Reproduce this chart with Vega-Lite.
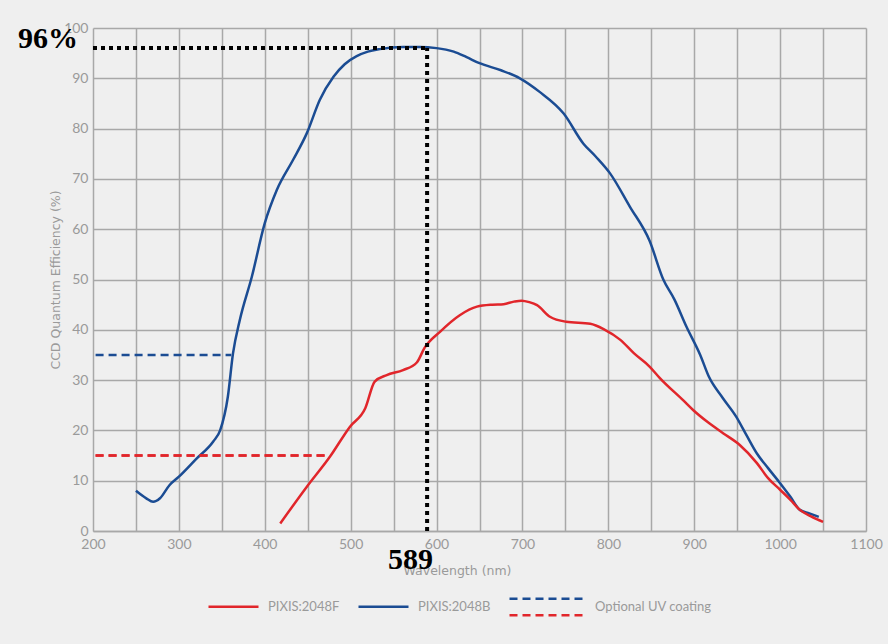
{
  "$schema": "https://vega.github.io/schema/vega-lite/v6.json",
  "width": 773,
  "height": 503,
  "autosize": {"type": "none"},
  "padding": {"left": 93, "top": 28, "right": 22, "bottom": 113},
  "background": "#efefef",
  "config": {
    "view": {"stroke": null},
    "font": "Lato",
    "axis": {
      "grid": true,
      "gridColor": "#a8a8a8",
      "gridWidth": 1.5,
      "ticks": false,
      "domainColor": "#a8a8a8",
      "domainWidth": 1.5,
      "labelColor": "#9a9a9a",
      "labelFontSize": 14,
      "labelFont": "Lato",
      "titleColor": "#9a9a9a",
      "titleFont": "DejaVu Sans",
      "titleFontSize": 12.5,
      "titleFontWeight": "normal"
    },
    "legend": {
      "labelColor": "#9a9a9a",
      "labelFontSize": 13,
      "labelFont": "Lato"
    }
  },
  "datasets": {
    "curves": [
      {"series": "PIXIS:2048B", "nm": 250, "qe": 8.0},
      {"series": "PIXIS:2048B", "nm": 262, "qe": 6.5},
      {"series": "PIXIS:2048B", "nm": 270, "qe": 5.8},
      {"series": "PIXIS:2048B", "nm": 278, "qe": 6.5},
      {"series": "PIXIS:2048B", "nm": 289, "qe": 9.1},
      {"series": "PIXIS:2048B", "nm": 300, "qe": 10.8},
      {"series": "PIXIS:2048B", "nm": 320, "qe": 14.3},
      {"series": "PIXIS:2048B", "nm": 340, "qe": 17.8},
      {"series": "PIXIS:2048B", "nm": 348, "qe": 20.0},
      {"series": "PIXIS:2048B", "nm": 357, "qe": 26.7},
      {"series": "PIXIS:2048B", "nm": 363, "qe": 35.3},
      {"series": "PIXIS:2048B", "nm": 371, "qe": 42.0},
      {"series": "PIXIS:2048B", "nm": 385, "qe": 50.6},
      {"series": "PIXIS:2048B", "nm": 400, "qe": 61.2},
      {"series": "PIXIS:2048B", "nm": 414, "qe": 67.8},
      {"series": "PIXIS:2048B", "nm": 433, "qe": 73.8},
      {"series": "PIXIS:2048B", "nm": 449, "qe": 79.1},
      {"series": "PIXIS:2048B", "nm": 464, "qe": 85.7},
      {"series": "PIXIS:2048B", "nm": 480, "qe": 90.3},
      {"series": "PIXIS:2048B", "nm": 493, "qe": 92.8},
      {"series": "PIXIS:2048B", "nm": 507, "qe": 94.4},
      {"series": "PIXIS:2048B", "nm": 520, "qe": 95.3},
      {"series": "PIXIS:2048B", "nm": 534, "qe": 95.8},
      {"series": "PIXIS:2048B", "nm": 561, "qe": 96.2},
      {"series": "PIXIS:2048B", "nm": 580, "qe": 96.2},
      {"series": "PIXIS:2048B", "nm": 600, "qe": 96.0},
      {"series": "PIXIS:2048B", "nm": 620, "qe": 95.3},
      {"series": "PIXIS:2048B", "nm": 635, "qe": 94.2},
      {"series": "PIXIS:2048B", "nm": 650, "qe": 93.0},
      {"series": "PIXIS:2048B", "nm": 675, "qe": 91.6},
      {"series": "PIXIS:2048B", "nm": 697, "qe": 90.0},
      {"series": "PIXIS:2048B", "nm": 720, "qe": 87.3},
      {"series": "PIXIS:2048B", "nm": 748, "qe": 83.0},
      {"series": "PIXIS:2048B", "nm": 771, "qe": 77.0},
      {"series": "PIXIS:2048B", "nm": 785, "qe": 74.5},
      {"series": "PIXIS:2048B", "nm": 802, "qe": 71.1},
      {"series": "PIXIS:2048B", "nm": 825, "qe": 64.5},
      {"series": "PIXIS:2048B", "nm": 848, "qe": 57.7},
      {"series": "PIXIS:2048B", "nm": 864, "qe": 50.0},
      {"series": "PIXIS:2048B", "nm": 877, "qe": 46.0},
      {"series": "PIXIS:2048B", "nm": 891, "qe": 40.6},
      {"series": "PIXIS:2048B", "nm": 907, "qe": 35.0},
      {"series": "PIXIS:2048B", "nm": 917, "qe": 30.7},
      {"series": "PIXIS:2048B", "nm": 933, "qe": 26.5},
      {"series": "PIXIS:2048B", "nm": 949, "qe": 22.7},
      {"series": "PIXIS:2048B", "nm": 961, "qe": 19.0},
      {"series": "PIXIS:2048B", "nm": 973, "qe": 15.4},
      {"series": "PIXIS:2048B", "nm": 986, "qe": 12.5},
      {"series": "PIXIS:2048B", "nm": 1000, "qe": 9.5},
      {"series": "PIXIS:2048B", "nm": 1012, "qe": 6.8},
      {"series": "PIXIS:2048B", "nm": 1023, "qe": 4.2},
      {"series": "PIXIS:2048B", "nm": 1034, "qe": 3.5},
      {"series": "PIXIS:2048B", "nm": 1045, "qe": 2.8},
      {"series": "PIXIS:2048F", "nm": 418, "qe": 1.5},
      {"series": "PIXIS:2048F", "nm": 449, "qe": 8.8},
      {"series": "PIXIS:2048F", "nm": 476, "qe": 14.8},
      {"series": "PIXIS:2048F", "nm": 499, "qe": 20.7},
      {"series": "PIXIS:2048F", "nm": 517, "qe": 24.4},
      {"series": "PIXIS:2048F", "nm": 528, "qe": 29.7},
      {"series": "PIXIS:2048F", "nm": 542, "qe": 31.0},
      {"series": "PIXIS:2048F", "nm": 561, "qe": 32.0},
      {"series": "PIXIS:2048F", "nm": 577, "qe": 33.5},
      {"series": "PIXIS:2048F", "nm": 586, "qe": 36.4},
      {"series": "PIXIS:2048F", "nm": 604, "qe": 39.6},
      {"series": "PIXIS:2048F", "nm": 627, "qe": 42.9},
      {"series": "PIXIS:2048F", "nm": 647, "qe": 44.6},
      {"series": "PIXIS:2048F", "nm": 665, "qe": 45.0},
      {"series": "PIXIS:2048F", "nm": 678, "qe": 45.1},
      {"series": "PIXIS:2048F", "nm": 690, "qe": 45.6},
      {"series": "PIXIS:2048F", "nm": 699, "qe": 45.8},
      {"series": "PIXIS:2048F", "nm": 708, "qe": 45.5},
      {"series": "PIXIS:2048F", "nm": 717, "qe": 44.9},
      {"series": "PIXIS:2048F", "nm": 732, "qe": 42.6},
      {"series": "PIXIS:2048F", "nm": 751, "qe": 41.6},
      {"series": "PIXIS:2048F", "nm": 779, "qe": 41.2},
      {"series": "PIXIS:2048F", "nm": 795, "qe": 40.1},
      {"series": "PIXIS:2048F", "nm": 814, "qe": 38.0},
      {"series": "PIXIS:2048F", "nm": 830, "qe": 35.3},
      {"series": "PIXIS:2048F", "nm": 848, "qe": 32.7},
      {"series": "PIXIS:2048F", "nm": 860, "qe": 30.4},
      {"series": "PIXIS:2048F", "nm": 887, "qe": 26.0},
      {"series": "PIXIS:2048F", "nm": 899, "qe": 24.0},
      {"series": "PIXIS:2048F", "nm": 916, "qe": 21.6},
      {"series": "PIXIS:2048F", "nm": 934, "qe": 19.4},
      {"series": "PIXIS:2048F", "nm": 953, "qe": 17.1},
      {"series": "PIXIS:2048F", "nm": 973, "qe": 13.5},
      {"series": "PIXIS:2048F", "nm": 986, "qe": 10.5},
      {"series": "PIXIS:2048F", "nm": 1000, "qe": 8.2},
      {"series": "PIXIS:2048F", "nm": 1012, "qe": 6.2},
      {"series": "PIXIS:2048F", "nm": 1023, "qe": 4.2},
      {"series": "PIXIS:2048F", "nm": 1036, "qe": 2.9},
      {"series": "PIXIS:2048F", "nm": 1050, "qe": 1.8}
    ],
    "uv": [
      {"series": "PIXIS:2048B", "coating": "Optional UV coating", "nm": 203, "qe": 35},
      {"series": "PIXIS:2048B", "coating": "Optional UV coating", "nm": 361, "qe": 35},
      {"series": "PIXIS:2048F", "coating": "Optional UV coating", "nm": 203, "qe": 15},
      {"series": "PIXIS:2048F", "coating": "Optional UV coating", "nm": 472, "qe": 15}
    ],
    "uvred": [
      {"series": "PIXIS:2048F", "coating2": "Optional UV coating (red)", "nm": 203, "qe": 15},
      {"series": "PIXIS:2048F", "coating2": "Optional UV coating (red)", "nm": 472, "qe": 15}
    ],
    "refs": [
      {"nm": 200, "nm2": 589, "qe": 96, "qe2": 96},
      {"nm": 589, "nm2": 589, "qe": 0, "qe2": 96}
    ],
    "pct": [{"nm": 200, "qe": 96, "label": "96%"}],
    "wl": [{"nm": 589, "qe": 0, "label": "589"}]
  },
  "layer": [
    {
      "data": {"name": "curves"},
      "mark": {"type": "line", "strokeWidth": 2.5, "interpolate": "monotone"},
      "encoding": {
        "x": {
          "field": "nm",
          "type": "quantitative",
          "scale": {"domain": [200, 1100], "nice": false, "zero": false},
          "axis": {
            "values": [200, 250, 300, 350, 400, 450, 500, 550, 600, 650, 700, 750, 800, 850, 900, 950, 1000, 1050, 1100],
            "labelExpr": "datum.value % 100 == 0 ? datum.label : ''",
            "format": "d",
            "labelFlush": false,
            "labelPadding": 6,
            "title": "Wavelength (nm)",
            "titlePadding": 13,
            "titleX": 364
          }
        },
        "y": {
          "field": "qe",
          "type": "quantitative",
          "scale": {"domain": [0, 100], "nice": false},
          "axis": {
            "values": [0, 10, 20, 30, 40, 50, 60, 70, 80, 90, 100],
            "domain": false,
            "labelFlush": false,
            "labelPadding": 5,
            "title": "CCD Quantum Efficiency  (%)",
            "titlePadding": 1
          }
        },
        "color": {
          "field": "series",
          "type": "nominal",
          "scale": {"domain": ["PIXIS:2048F", "PIXIS:2048B"], "range": ["#e1262b", "#1b4c93"]},
          "legend": {
            "orient": "none",
            "legendX": 114,
            "legendY": 552,
            "direction": "horizontal",
            "symbolType": "stroke",
            "symbolSize": 2500,
            "symbolStrokeWidth": 2.5,
            "labelOffset": 8,
            "columnPadding": 13,
            "title": null
          }
        }
      }
    },
    {
      "data": {"name": "uv"},
      "mark": {"type": "line", "strokeWidth": 2.5},
      "encoding": {
        "x": {"field": "nm", "type": "quantitative"},
        "y": {"field": "qe", "type": "quantitative"},
        "color": {"field": "series", "type": "nominal"},
        "strokeDash": {
          "field": "coating",
          "type": "nominal",
          "scale": {"range": [[8, 5]]},
          "legend": {
            "orient": "none",
            "legendX": 415,
            "legendY": 540,
            "symbolType": "M-1,-0.22H1",
            "symbolSize": 5625,
            "symbolStrokeWidth": 2.5,
            "symbolStrokeColor": "#1b4c93",
            "symbolFillColor": "transparent",
            "labelOffset": 9,
            "title": null
          }
        }
      }
    },
    {
      "data": {"name": "uvred"},
      "mark": {"type": "line", "strokeWidth": 2.5, "strokeDash": [8, 5]},
      "encoding": {
        "x": {"field": "nm", "type": "quantitative"},
        "y": {"field": "qe", "type": "quantitative"},
        "color": {"field": "series", "type": "nominal"},
        "opacity": {
          "field": "coating2",
          "type": "ordinal",
          "scale": {"range": [1, 1]},
          "legend": {
            "orient": "none",
            "legendX": 415,
            "legendY": 540,
            "symbolType": "M-1,0.22H1",
            "symbolSize": 5625,
            "symbolStrokeWidth": 2.5,
            "symbolStrokeColor": "#e1262b",
            "symbolFillColor": "transparent",
            "symbolDash": [8, 5],
            "labelExpr": "''",
            "title": null
          }
        }
      }
    },
    {
      "data": {"name": "refs"},
      "mark": {"type": "rule", "color": "black", "strokeWidth": 4, "strokeDash": [4, 4], "strokeCap": "butt"},
      "encoding": {
        "x": {"field": "nm", "type": "quantitative"},
        "x2": {"field": "nm2"},
        "y": {"field": "qe", "type": "quantitative"},
        "y2": {"field": "qe2"}
      }
    },
    {
      "data": {"name": "pct"},
      "mark": {"type": "text", "align": "right", "baseline": "alphabetic", "dx": -15, "font": "Liberation Serif", "fontWeight": "bold", "fontSize": 30, "color": "black"},
      "encoding": {
        "x": {"field": "nm", "type": "quantitative"},
        "y": {"field": "qe", "type": "quantitative"},
        "text": {"field": "label"}
      }
    },
    {
      "data": {"name": "wl"},
      "mark": {"type": "text", "align": "right", "baseline": "alphabetic", "dx": 6, "dy": 38, "font": "Liberation Serif", "fontWeight": "bold", "fontSize": 30, "color": "black"},
      "encoding": {
        "x": {"field": "nm", "type": "quantitative"},
        "y": {"field": "qe", "type": "quantitative"},
        "text": {"field": "label"}
      }
    }
  ]
}
